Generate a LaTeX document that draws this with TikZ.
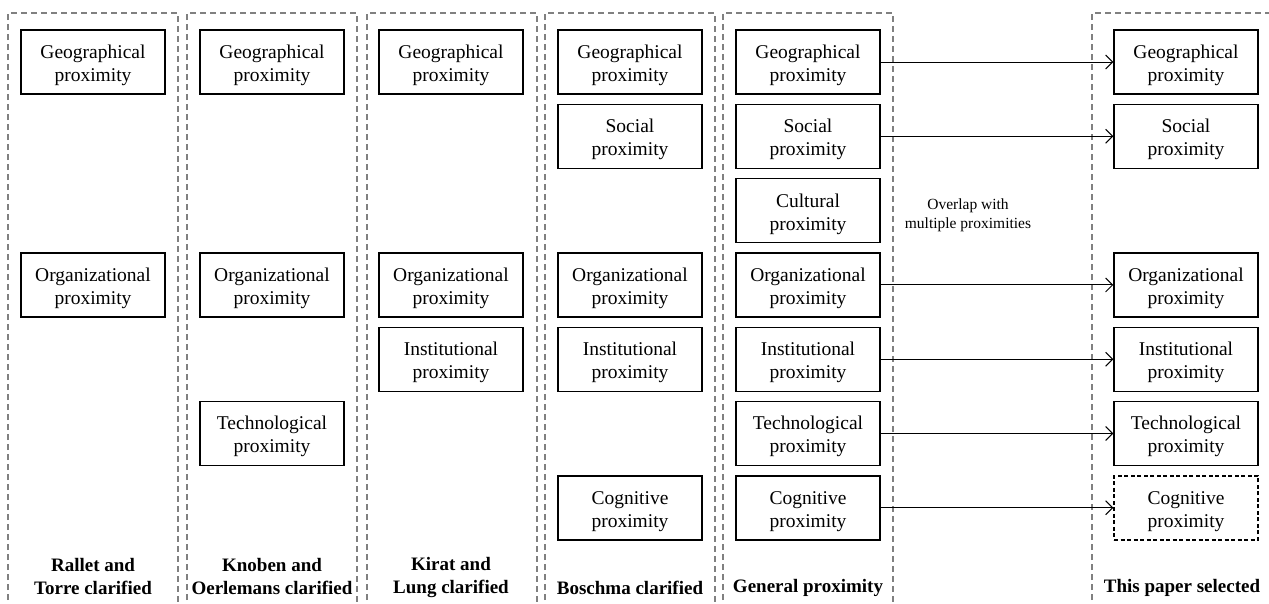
\documentclass[tikz,border=0pt]{standalone}
\usepackage{fontspec}
\setmainfont{Liberation Serif}
\usetikzlibrary{arrows.meta}
\newcommand{\topstrut}{\rule{0pt}{20pt}}
\tikzset{
  prox/.style={draw, line width=1.4pt, rectangle, minimum width=144pt, minimum height=64pt,
    inner sep=0pt, align=center, font=\fontsize{19.5}{23}\selectfont},
  proxdash/.style={prox, dash pattern=on 4pt off 2.5pt},
  colbox/.style={draw=black!50, line width=1.1pt, dash pattern=on 6pt off 4pt},
  coltitle/.style={align=center, font=\fontsize{19}{23}\selectfont\bfseries},
  link/.style={line width=1pt, -{Straight Barb[length=7pt,width=14pt]}},
}
\begin{document}
\begin{tikzpicture}[x=1pt,y=-1pt]
\clip (0,0) rectangle (1269,603);
\fill[white] (0,0) rectangle (1269,603);
% columns
\draw[colbox] (8,640) -- (8,13) -- (178,13) -- (178,640);
\draw[colbox] (187,640) -- (187,13) -- (357,13) -- (357,640);
\draw[colbox] (367,640) -- (367,13) -- (537,13) -- (537,640);
\draw[colbox] (545,640) -- (545,13) -- (715,13) -- (715,640);
\draw[colbox] (723,640) -- (723,13) -- (893,13) -- (893,640);
\draw[colbox] (1092,640) -- (1092,13) -- (1300,13);
% column 1
\node[prox] (a1) at (93,62) {\topstrut Geographical\\proximity};
\node[prox] (a4) at (93,284.9) {\topstrut Organizational\\proximity};
% column 2
\node[prox] (b1) at (272,62) {\topstrut Geographical\\proximity};
\node[prox] (b4) at (272,284.9) {\topstrut Organizational\\proximity};
\node[prox] (b6) at (272,433.5) {\topstrut Technological\\proximity};
% column 3
\node[prox] (c1) at (451,62) {\topstrut Geographical\\proximity};
\node[prox] (c4) at (451,284.9) {\topstrut Organizational\\proximity};
\node[prox] (c5) at (451,359.2) {\topstrut Institutional\\proximity};
% column 4
\node[prox] (d1) at (630,62) {\topstrut Geographical\\proximity};
\node[prox] (d2) at (630,136.3) {\topstrut Social\\proximity};
\node[prox] (d4) at (630,284.9) {\topstrut Organizational\\proximity};
\node[prox] (d5) at (630,359.2) {\topstrut Institutional\\proximity};
\node[prox] (d7) at (630,507.8) {\topstrut Cognitive\\proximity};
% column 5
\node[prox] (e1) at (808,62) {\topstrut Geographical\\proximity};
\node[prox] (e2) at (808,136.3) {\topstrut Social\\proximity};
\node[prox] (e3) at (808,210.6) {\topstrut Cultural\\proximity};
\node[prox] (e4) at (808,284.9) {\topstrut Organizational\\proximity};
\node[prox] (e5) at (808,359.2) {\topstrut Institutional\\proximity};
\node[prox, line width=1.8pt] (e6) at (808,433.5) {\topstrut Technological\\proximity};
\node[prox] (e7) at (808,507.8) {\topstrut Cognitive\\proximity};
% column 6
\node[prox] (f1) at (1186,62) {\topstrut Geographical\\proximity};
\node[prox] (f2) at (1186,136.3) {\topstrut Social\\proximity};
\node[prox] (f4) at (1186,284.9) {\topstrut Organizational\\proximity};
\node[prox] (f5) at (1186,359.2) {\topstrut Institutional\\proximity};
\node[prox] (f6) at (1186,433.5) {\topstrut Technological\\proximity};
\node[proxdash] (f7) at (1186,507.8) {\topstrut Cognitive\\proximity};
% overlap note
\node[align=center, font=\fontsize{15.5}{19}\selectfont] (ov) at (968,215) {Overlap with\\multiple proximities};
% arrows
\draw[link] (e1) -- (f1);
\draw[link] (e2) -- (f2);
\draw[link] (e4) -- (f4);
\draw[link] (e5) -- (f5);
\draw[link] (e6) -- (f6);
\draw[link] (e7) -- (f7);
% titles
\node[coltitle] (t1) at (93,576) {Rallet and\\Torre clarified};
\node[coltitle] (t2) at (272,576) {Knoben and\\Oerlemans clarified};
\node[coltitle] (t3) at (451,577.5) {Kirat and\\Lung clarified};
\node[coltitle] (t4) at (630,587.5) {Boschma clarified};
\node[coltitle] (t5) at (808,587.5) {General proximity};
\node[coltitle] (t6) at (1182,587.5) {This paper selected};
\end{tikzpicture}
\end{document}
